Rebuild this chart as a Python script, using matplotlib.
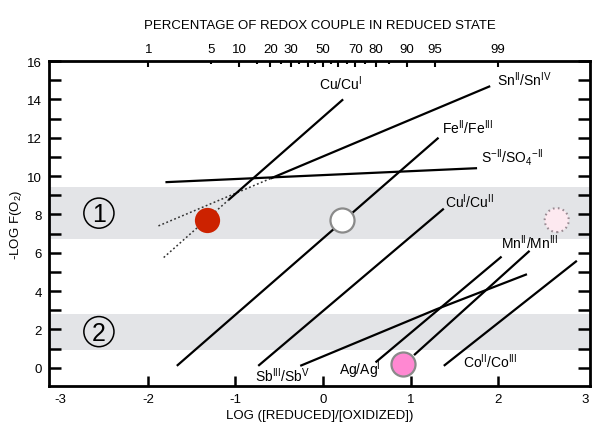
import matplotlib

matplotlib.use("Agg")

import matplotlib.pyplot as plt
import numpy as np

plt.rcParams["font.family"] = ["Liberation Sans", "DejaVu Sans"]
plt.rcParams["mathtext.fontset"] = "custom"
plt.rcParams["mathtext.rm"] = "Liberation Sans"
plt.rcParams["mathtext.it"] = "Liberation Sans:italic"
plt.rcParams["axes.unicode_minus"] = False

# redox couple lines: log([red]/[ox]) vs -log f(O2)
cu_cu1_dot_x = [-1.82, -1.08]
cu_cu1_dot_y = [5.75, 8.75]
cu_cu1_x = [-1.08, 0.23]
cu_cu1_y = [8.75, 14.0]
sn_dot_x = [-1.88, -0.60]
sn_dot_y = [7.40, 9.87]
sn_x = [-0.60, 1.91]
sn_y = [9.87, 14.69]
s_x = [-1.80, 1.76]
s_y = [9.68, 10.41]
fe_x = [-1.67, 1.32]
fe_y = [0.10, 12.0]
cu1_cu2_x = [-0.74, 1.38]
cu1_cu2_y = [0.10, 8.30]
sb_x = [-0.26, 1.30, 2.33]
sb_y = [0.10, 3.06, 4.88]
ag_x = [0.60, 2.04]
ag_y = [0.28, 5.80]
mn_x = [1.04, 2.36]
mn_y = [0.66, 6.10]
co_x = [1.38, 2.90]
co_y = [0.10, 5.58]

# couple labels
label_text = [
    "Cu/Cu$^{\\mathrm{I}}$",
    "Sn$^{\\mathrm{II}}$/Sn$^{\\mathrm{IV}}$",
    "Fe$^{\\mathrm{II}}$/Fe$^{\\mathrm{III}}$",
    "S$^{\\mathrm{-II}}$/SO$_{\\mathrm{4}}$$^{\\mathrm{-II}}$",
    "Cu$^{\\mathrm{I}}$/Cu$^{\\mathrm{II}}$",
    "Mn$^{\\mathrm{II}}$/Mn$^{\\mathrm{III}}$",
    "Co$^{\\mathrm{II}}$/Co$^{\\mathrm{III}}$",
    "Ag/Ag$^{\\mathrm{I}}$",
    "Sb$^{\\mathrm{III}}$/Sb$^{\\mathrm{V}}$",
]
label_x = [-0.05, 1.99, 1.36, 1.80, 1.39, 2.03, 1.60, 0.18, -0.78]
label_y = [14.88, 15.08, 12.58, 11.02, 8.70, 6.57, 0.36, -0.07, -0.38]

# shaded ranges
band_low = [6.70, 0.94]
band_high = [9.43, 2.83]
band_names = ["1", "2"]
band_label_x = -2.56

# sample points
red_pt = (-1.33, 7.69)
white_pt = (0.22, 7.71)
faint_pt = (2.67, 7.70)
pink_pt = (0.91, 0.19)

# top axis: percent reduced
pct_major = [1, 10, 20, 30, 40, 50, 60, 70, 80, 90, 95, 99]
pct_major_labels = ["1", "10", "20", "30", "", "50", "", "70", "80", "90", "95", "99"]
pct_minor = [5, 15, 25, 35, 45, 55, 65, 75, 85]
pct_minor_labels = ["5", "", "", "", "", "", "", "", ""]


def pct_to_log(p):
    p = np.asarray(p, dtype=float)
    return np.log10(p / (100 - p))


fig = plt.figure(figsize=(5.92, 4.27), dpi=100)
ax = fig.add_axes([0.0828, 0.0937, 0.9138, 0.7611])

for lo, hi in zip(band_low, band_high):
    ax.axhspan(lo, hi, color="#e3e4e7", lw=0, zorder=0)
for lo, hi, name in zip(band_low, band_high, band_names):
    yc = (lo + hi) / 2
    ax.scatter([band_label_x], [yc], s=470, facecolor="none", edgecolor="black", lw=1.1, zorder=3)
    ax.text(band_label_x, yc - 0.05, name, fontsize=18, ha="center", va="center", zorder=4)

dot_style = dict(color="#333333", lw=1.1, linestyle=(0, (1.2, 1.6)), zorder=2)
ax.plot(cu_cu1_dot_x, cu_cu1_dot_y, **dot_style)
ax.plot(sn_dot_x, sn_dot_y, **dot_style)

line_style = dict(color="black", lw=1.6, solid_capstyle="butt", zorder=2)
for xs, ys in [
    (cu_cu1_x, cu_cu1_y),
    (sn_x, sn_y),
    (s_x, s_y),
    (fe_x, fe_y),
    (cu1_cu2_x, cu1_cu2_y),
    (sb_x, sb_y),
    (ag_x, ag_y),
    (mn_x, mn_y),
    (co_x, co_y),
]:
    ax.plot(xs, ys, **line_style)

for txt, lx, ly in zip(label_text, label_x, label_y):
    ax.text(lx, ly, txt, fontsize=10, ha="left", va="center", zorder=5)

ax.scatter(*red_pt, s=330, color="#cc2200", lw=0, zorder=4)
ax.scatter(*white_pt, s=300, facecolor="white", edgecolor="#8a8a8a", lw=1.6, zorder=4)
ax.scatter(*faint_pt, s=300, facecolor="#fde9f0", edgecolor="#998a92", lw=1.5,
           linestyle=(0, (0.8, 1.6)), zorder=4)
ax.scatter(*pink_pt, s=300, facecolor="#ff88d2", edgecolor="#8a8a8a", lw=1.6, zorder=4)

ax.set_xlim(-3.13, 3.05)
ax.set_ylim(-0.95, 16.0)

ax.set_xticks([-2, -1, 0, 1, 2])
ax.set_xticks([-3, 3], labels=["-3", "3"], minor=True)
ax.set_yticks(np.arange(0, 17, 2))
ax.set_yticks(np.arange(1, 17, 2), minor=True)
ax.tick_params(axis="both", which="both", direction="in", labelsize=9.5, width=1.8)
ax.tick_params(axis="x", which="major", length=7, pad=5)
ax.tick_params(axis="x", which="minor", length=0, pad=5)
ax.tick_params(axis="y", which="both", length=8.5, right=True, pad=5)
for sp in ax.spines.values():
    sp.set_linewidth(2.0)

ax.set_xlabel("LOG ([REDUCED]/[OXIDIZED])", fontsize=9.5, labelpad=3)
ax.set_ylabel("-LOG F(O$_{\\mathrm{2}}$)", fontsize=9.5, labelpad=2)

top = ax.twiny()
top.set_xlim(ax.get_xlim())
top.set_xticks(pct_to_log(pct_major), labels=pct_major_labels)
top.set_xticks(pct_to_log(pct_minor), labels=pct_minor_labels, minor=True)
top.tick_params(axis="x", which="both", direction="in", width=1.5, labelsize=9.5, pad=4)
top.tick_params(axis="x", which="major", length=4.5)
top.tick_params(axis="x", which="minor", length=2.2)
top.set_xlabel("PERCENTAGE OF REDOX COUPLE IN REDUCED STATE", fontsize=9.5, labelpad=11)
for sp in top.spines.values():
    sp.set_visible(False)

fig.savefig("out.png", dpi=100)
